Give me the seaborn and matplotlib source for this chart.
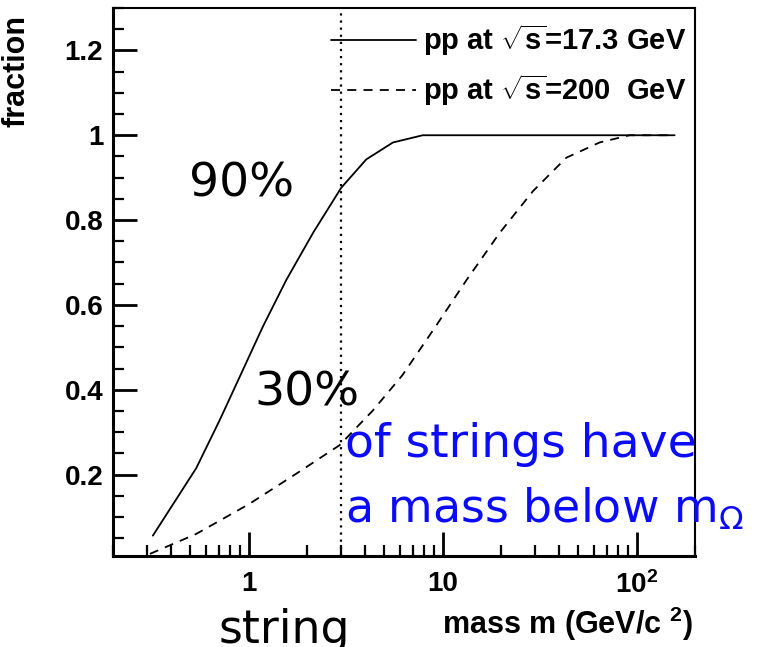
import matplotlib
matplotlib.use("Agg")
import matplotlib.pyplot as plt
import seaborn as sns
import pandas as pd
from matplotlib.ticker import FixedLocator, FixedFormatter, LogLocator, NullFormatter, MultipleLocator

# ---- data ----
mass_17 = [0.321, 0.537, 0.709, 0.899, 1.185, 1.565, 2.15, 3.0, 4.04, 5.55, 7.9, 157]
frac_17 = [0.056, 0.215, 0.328, 0.430, 0.549, 0.659, 0.770, 0.876, 0.943, 0.983, 1.0, 1.0]

mass_200 = [0.31, 0.537, 1.01, 1.76, 2.94, 4.37, 6.2, 9.2, 13.3, 19.7, 29.2, 43.4, 64.5, 92, 157]
frac_200 = [0.013, 0.06, 0.131, 0.202, 0.269, 0.351, 0.434, 0.549, 0.659, 0.770, 0.868, 0.947,
            0.983, 1.0, 1.0]

label_17 = r"pp at $\sqrt{\mathbf{s}}$=17.3 GeV"
label_200 = r"pp at $\sqrt{\mathbf{s}}$=200  GeV"
omega_mass_line = 3.0
x_ticks = [1, 10, 100]
x_tick_labels = ["1", "10", r"$\mathbf{10^{2}}$"]
y_ticks = [0.2, 0.4, 0.6, 0.8, 1.0, 1.2]
y_tick_labels = ["0.2", "0.4", "0.6", "0.8", "1", "1.2"]

sns.set_theme(style="ticks")
plt.rcParams["font.family"] = ["Liberation Sans", "DejaVu Sans"]
plt.rcParams["mathtext.fontset"] = "custom"
plt.rcParams["mathtext.rm"] = "Liberation Sans:bold"
plt.rcParams["mathtext.bf"] = "Liberation Sans:bold"
plt.rcParams["mathtext.it"] = "Liberation Sans:bold"
for k in ["text.color", "axes.labelcolor", "xtick.color", "ytick.color", "axes.edgecolor"]:
    plt.rcParams[k] = "black"

fig = plt.figure(figsize=(7.61, 6.47), dpi=100)
W, H = 761, 647
ax = fig.add_axes([113 / W, 1 - 556 / H, (695 - 113) / W, (556 - 8) / H])

df17 = pd.DataFrame({"mass": mass_17, "fraction": frac_17})
df200 = pd.DataFrame({"mass": mass_200, "fraction": frac_200})

sns.lineplot(data=df17, x="mass", y="fraction", ax=ax, color="black", lw=1.3, label=label_17)
sns.lineplot(data=df200, x="mass", y="fraction", ax=ax, color="black", lw=1.3,
             linestyle=(0, (5, 4)), label=label_200)
ax.axvline(omega_mass_line, color="black", lw=1.6, linestyle=(0, (1, 2.2)))

ax.set_xscale("log")
ax.set_xlim(0.2, 200)
ax.set_ylim(0.008, 1.3)

ax.xaxis.set_major_locator(FixedLocator(x_ticks))
ax.xaxis.set_major_formatter(FixedFormatter(x_tick_labels))
ax.xaxis.set_minor_locator(LogLocator(base=10, subs=range(2, 10)))
ax.xaxis.set_minor_formatter(NullFormatter())
ax.yaxis.set_major_locator(FixedLocator(y_ticks))
ax.yaxis.set_major_formatter(FixedFormatter(y_tick_labels))
ax.yaxis.set_minor_locator(MultipleLocator(0.05))

ax.tick_params(axis="both", which="major", direction="in", length=17, width=2,
               labelsize=20, top=False, right=False, color="black", labelcolor="black")
ax.tick_params(axis="both", which="minor", direction="in", length=8, width=1.6,
               top=False, right=False, color="black")
ax.tick_params(axis="x", which="major", pad=11)
ax.tick_params(axis="y", which="major", pad=7)
for lab in ax.get_xticklabels() + ax.get_yticklabels():
    lab.set_fontweight("bold")

for side in ["left", "bottom"]:
    ax.spines[side].set_linewidth(2.2)
for side in ["top", "right"]:
    ax.spines[side].set_linewidth(1.5)

ax.set_ylabel("fraction", fontsize=22, fontweight="bold", loc="top")
ax.yaxis.set_label_coords(-0.14, 0.988)
ax.set_xlabel(r"mass m (GeV/c $^{\mathbf{2}}$)", fontsize=22, fontweight="bold", loc="right")
ax.xaxis.set_label_coords(0.997, -0.088)

leg = ax.legend(loc="upper right", frameon=False, handlelength=2.9, handletextpad=0.25,
                labelspacing=0.48, borderaxespad=0.2, bbox_to_anchor=(1.015, 1.006),
                prop={"weight": "bold", "size": 21})

hand = ["DejaVu Sans"]
ax.text(242 / W, 1 - 184 / H, "90%", transform=fig.transFigure, fontsize=34,
        family=hand, ha="center", va="center", color="black")
ax.text(307 / W, 1 - 393 / H, "30%", transform=fig.transFigure, fontsize=34,
        family=hand, ha="center", va="center", color="black")
ax.text(345 / W, 1 - 457 / H, "of strings have", transform=fig.transFigure, fontsize=34,
        family=hand, ha="left", va="baseline", color="#0a0aff")
ax.text(345 / W, 1 - 522 / H, r"a mass below m$_{\Omega}$", transform=fig.transFigure, fontsize=33,
        family=hand, ha="left", va="baseline", color="#0a0aff", math_fontfamily="dejavusans")
fig.text(284 / W, 1 - 608 / H, "string", fontsize=33, family=hand, ha="center", va="top",
         color="black")

fig.savefig("out.png", dpi=100)
